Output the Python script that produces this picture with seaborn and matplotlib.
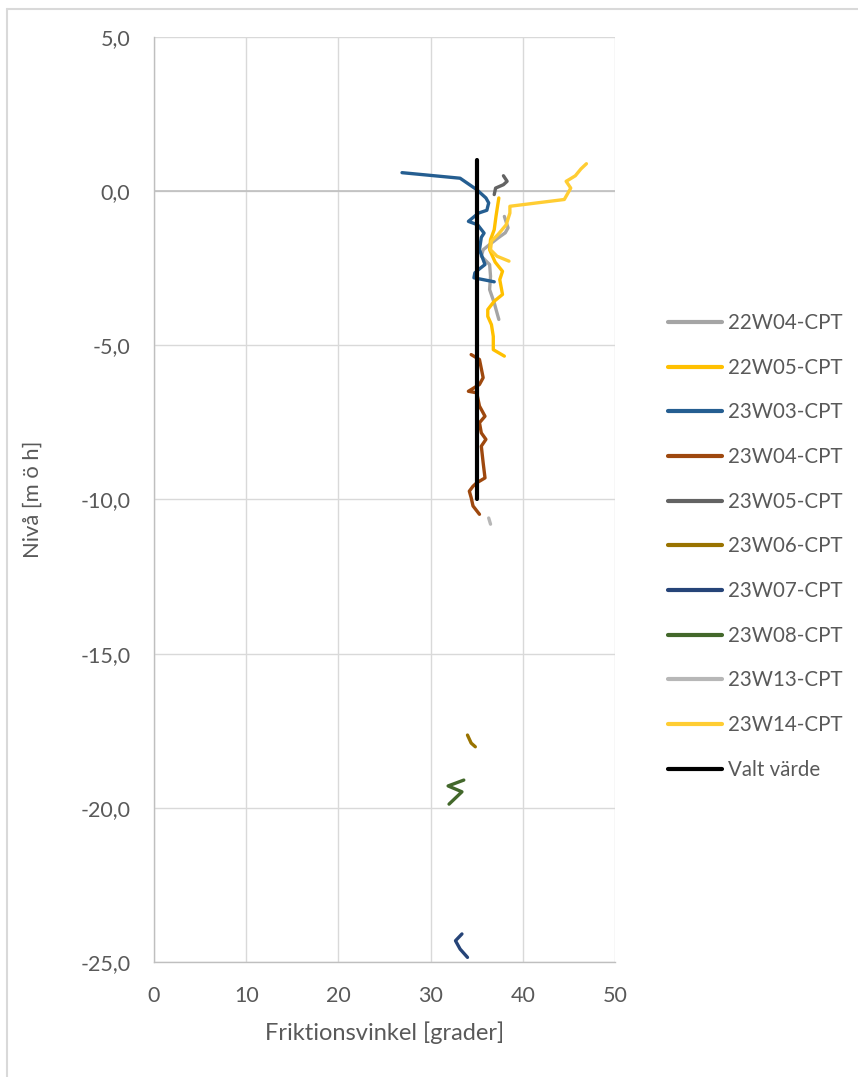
import matplotlib
matplotlib.use("Agg")
import matplotlib.pyplot as plt
import matplotlib.ticker as mticker
from matplotlib.lines import Line2D
import seaborn as sns
import pandas as pd

# ---- data (friction angle [deg], level [m o h]) ----
s22W04_x = [38.0, 38.4, 38.1, 37.3, 36.4, 35.7, 35.5, 36.4, 36.5, 36.4, 36.9, 37.1, 37.4]
s22W04_y = [-0.82, -1.19, -1.35, -1.52, -1.73, -1.90, -2.11, -2.38, -2.76, -3.19, -3.62, -3.84, -4.16]

s22W05_x = [37.4, 37.1, 36.9, 36.5, 36.4, 37.0, 37.8, 37.5, 37.8, 36.9, 36.2, 36.2, 36.6, 36.8, 36.8, 38.0]
s22W05_y = [-0.22, -0.80, -1.25, -1.57, -1.90, -2.30, -2.60, -2.87, -3.35, -3.57, -3.84, -4.06, -4.33, -4.71, -5.14, -5.35]

s23W03_x = [26.9, 33.2, 35.0, 36.0, 36.3, 36.1, 35.2, 34.1, 35.1, 35.8, 35.5, 35.3, 35.9, 35.3, 34.8, 34.7, 36.9]
s23W03_y = [0.60, 0.42, 0.05, -0.22, -0.38, -0.62, -0.71, -0.98, -1.09, -1.36, -1.50, -1.90, -2.38, -2.52, -2.65, -2.81, -2.94]

s23W04_x = [34.4, 35.3, 35.7, 35.3, 34.1, 35.0, 35.3, 35.9, 35.3, 35.5, 36.0, 35.5, 35.7, 35.9, 35.0, 34.6, 34.2, 34.4, 34.6, 35.3]
s23W04_y = [-5.30, -5.46, -6.05, -6.27, -6.49, -6.54, -6.97, -7.30, -7.51, -7.84, -8.05, -8.27, -8.81, -9.30, -9.46, -9.57, -9.73, -9.94, -10.21, -10.48]

s23W05_x = [36.9, 37.05, 37.9, 38.3, 37.9]
s23W05_y = [-0.11, 0.10, 0.21, 0.32, 0.50]

s23W06_x = [34.0, 34.4, 34.85]
s23W06_y = [-17.64, -17.90, -18.02]

s23W07_x = [33.4, 32.7, 33.2, 34.0]
s23W07_y = [-24.09, -24.31, -24.58, -24.85]

s23W08_x = [33.6, 31.9, 33.4, 32.0]
s23W08_y = [-19.10, -19.29, -19.48, -19.88]

s23W13_x = [36.3, 36.5]
s23W13_y = [-10.60, -10.80]

s23W14_x = [46.9, 46.3, 45.7, 45.1, 44.7, 45.2, 44.5, 38.6, 38.6, 38.2, 37.3, 36.6, 36.5, 37.2, 38.5]
s23W14_y = [0.89, 0.72, 0.50, 0.39, 0.32, 0.10, -0.27, -0.49, -0.71, -1.09, -1.41, -1.62, -1.90, -2.11, -2.27]

valt_x = [35.0, 35.0]
valt_y = [1.0, -10.0]

series_names = ["22W04-CPT", "22W05-CPT", "23W03-CPT", "23W04-CPT", "23W05-CPT",
                "23W06-CPT", "23W07-CPT", "23W08-CPT", "23W13-CPT", "23W14-CPT", "Valt värde"]
series_x = [s22W04_x, s22W05_x, s23W03_x, s23W04_x, s23W05_x, s23W06_x,
            s23W07_x, s23W08_x, s23W13_x, s23W14_x, valt_x]
series_y = [s22W04_y, s22W05_y, s23W03_y, s23W04_y, s23W05_y, s23W06_y,
            s23W07_y, s23W08_y, s23W13_y, s23W14_y, valt_y]
colors = ["#A5A5A5", "#FFC000", "#255E91", "#9E480E", "#636363",
          "#997300", "#264478", "#43682B", "#B7B7B7", "#FFCD33", "#000000"]

x_ticks = [0, 10, 20, 30, 40, 50]
y_ticks = [5, 0, -5, -10, -15, -20, -25]

rows = []
for name, xs, ys in zip(series_names, series_x, series_y):
    for i, (xv, yv) in enumerate(zip(xs, ys)):
        rows.append({"serie": name, "idx": i, "x": xv, "y": yv})
df = pd.DataFrame(rows)
palette = dict(zip(series_names, colors))

sns.set_theme(style="white")
plt.rcParams["font.family"] = ["Lato", "DejaVu Sans"]
TXT = "#595959"

fig = plt.figure(figsize=(8.58, 10.77), dpi=100)
ax = fig.add_axes([154/858, 1-962/1077, (615-154)/858, (962-37)/1077])

for name in series_names:
    sub = df[df["serie"] == name]
    lw = 3.0 if name == "Valt värde" else 2.4
    sns.lineplot(data=sub, x="x", y="y", sort=False, estimator=None, color=palette[name],
                 linewidth=lw, ax=ax, legend=False, zorder=5 if name == "Valt värde" else 3,
                 solid_capstyle="round")

ax.set_xlim(0, 50)
ax.set_ylim(-25, 5)
ax.set_xticks(x_ticks)
ax.set_yticks(y_ticks)
ax.yaxis.set_major_formatter(mticker.FuncFormatter(lambda v, p: f"{v:.1f}".replace(".", ",")))
ax.xaxis.set_major_formatter(mticker.FuncFormatter(lambda v, p: f"{v:.0f}"))
ax.grid(True, color="#D9D9D9", linewidth=1.0)
ax.set_axisbelow(True)
ax.axhline(0, color="#BFBFBF", linewidth=1.2, zorder=1)
for side in ["top", "right"]:
    ax.spines[side].set_visible(False)
for side in ["left", "bottom"]:
    ax.spines[side].set_color("#BFBFBF")
    ax.spines[side].set_linewidth(1.0)
ax.tick_params(axis="both", length=0, labelsize=15.5, labelcolor=TXT)
ax.tick_params(axis="y", pad=17)
ax.tick_params(axis="x", pad=17)
ax.set_xlabel("Friktionsvinkel [grader]", fontsize=17, color=TXT, va="center")
ax.set_ylabel("Nivå [m ö h]", fontsize=15.8, color=TXT, va="center")
ax.xaxis.set_label_coords(0.5, (962 - 1033) / 925)
ax.yaxis.set_label_coords((33 - 154) / 461, 0.5)

handles = [Line2D([0], [0], color=c, linewidth=3.0) for c in colors]
fig.legend(handles, series_names, loc="center left", bbox_to_anchor=(668/858, 1-546.5/1077),
           frameon=False, fontsize=14.8, labelcolor=TXT, handlelength=2.62, handletextpad=0.3,
           labelspacing=1.20, borderaxespad=0, borderpad=0)

# outer chart frame (partially visible)
fig.add_artist(Line2D([7/858, 1.0], [1-9/1077, 1-9/1077], color="#D9D9D9", linewidth=1.5,
                      transform=fig.transFigure))
fig.add_artist(Line2D([7/858, 7/858], [0.0, 1-9/1077], color="#D9D9D9", linewidth=1.5,
                      transform=fig.transFigure))

fig.savefig("out.png", dpi=100, facecolor="white")
